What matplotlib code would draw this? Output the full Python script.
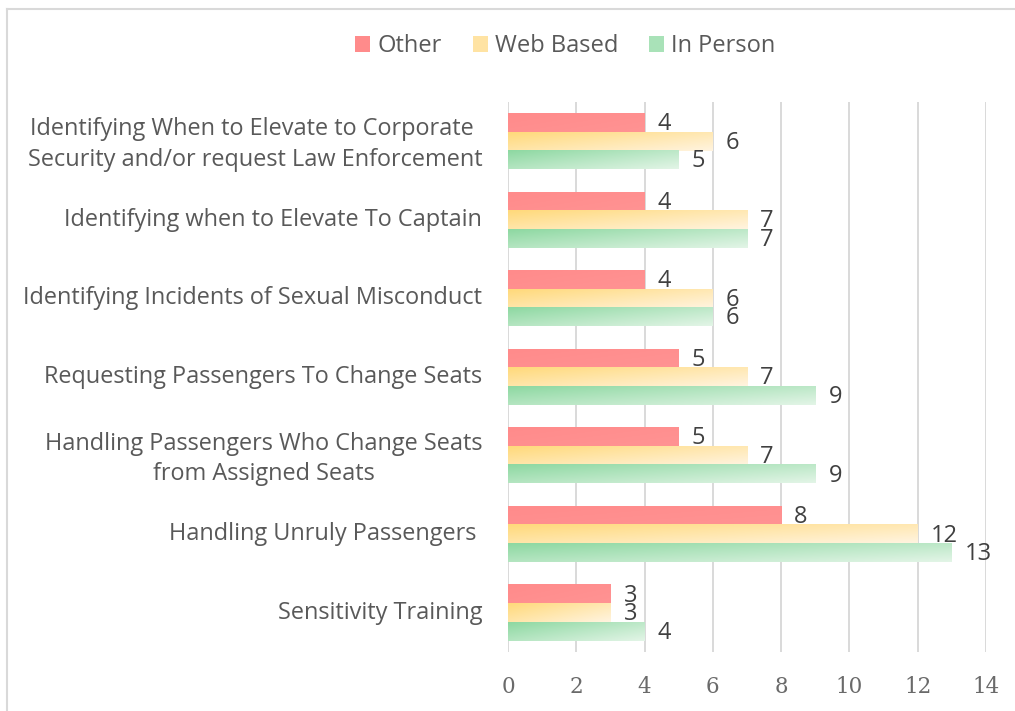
import numpy as np
import matplotlib
matplotlib.use("Agg")
import matplotlib.pyplot as plt
import matplotlib.transforms as mtransforms
from matplotlib.patches import Patch
from matplotlib.lines import Line2D
from matplotlib.colors import to_rgb

categories = [
    "Identifying When to Elevate to Corporate \nSecurity and/or request Law Enforcement",
    "Identifying when to Elevate To Captain",
    "Identifying Incidents of Sexual Misconduct",
    "Requesting Passengers To Change Seats",
    "Handling Passengers Who Change Seats\nfrom Assigned Seats",
    "Handling Unruly Passengers ",
    "Sensitivity Training",
]
series_names = ["Other", "Web Based", "In Person"]
other = [4, 4, 4, 5, 5, 8, 3]
web_based = [6, 7, 6, 7, 7, 12, 3]
in_person = [5, 7, 6, 9, 9, 13, 4]
x_ticks = [0, 2, 4, 6, 8, 10, 12, 14]

# gradient colours (start, end)
grads = [
    ("#FF8B8B", "#FF9393"),
    ("#FFD97A", "#FFF4E0"),
    ("#8DD8A1", "#E3F5E7"),
]
legend_cols = ["#FF8B8B", "#FFE3A3", "#A9E2B8"]

fig = plt.figure(figsize=(10.15, 7.11), dpi=100)
ax = fig.add_axes([508 / 1015, 1 - 652 / 711, (986 - 508) / 1015, 550 / 711])

h = 0.236
n = len(categories)
ys = np.arange(n)
all_series = [other, web_based, in_person]
offsets = [-h, 0, h]


def gradient_bar(ax, left, width, yc, height, c0, c1):
    c0 = np.array(to_rgb(c0))
    c1 = np.array(to_rgb(c1))
    nx, ny = 200, 40
    xf = np.linspace(0, 1, nx)[None, :]
    yf = np.linspace(0, 1, ny)[:, None]
    t = 0.55 * xf + 0.45 * yf
    img = c0[None, None, :] + (c1 - c0)[None, None, :] * t[:, :, None]
    ax.imshow(img, extent=(left, left + width, yc + height / 2, yc - height / 2),
              origin="upper", aspect="auto", interpolation="bilinear", zorder=2)


for si, vals in enumerate(all_series):
    for i, v in enumerate(vals):
        yc = ys[i] + offsets[si]
        gradient_bar(ax, 0, v, yc, h, *grads[si])
        ax.annotate(str(v), xy=(v, yc), xytext=(9.5, -1), textcoords="offset points",
                    ha="left", va="center", fontsize=17, color="#404040",
                    family="Open Sans", zorder=3)

ax.set_xlim(0, 14)
ax.set_ylim(n - 0.5, -0.5)
ax.set_xticks(x_ticks)
ax.set_xticklabels([str(t) for t in x_ticks], family="DejaVu Serif", fontsize=15.5,
                   color="#6a6a6a")
ax.set_yticks(ys)
ax.set_yticklabels(categories, family="Open Sans", fontsize=16.9, color="#595959",
                   ha="right", multialignment="center", linespacing=1.35)
ax.tick_params(axis="both", length=0)
ax.tick_params(axis="x", pad=17)
ax.tick_params(axis="y", pad=18.5)

shift = mtransforms.ScaledTranslation(0, 3 / 100, fig.dpi_scale_trans)
for lbl in ax.get_yticklabels():
    lbl.set_transform(lbl.get_transform() + shift)

ax.grid(axis="x", color="#D9D9D9", linewidth=1.4, zorder=0)
ax.set_axisbelow(True)
for s in ax.spines.values():
    s.set_visible(False)

handles = [Patch(facecolor=c, edgecolor="none") for c in legend_cols]
fig.legend(handles, series_names, loc="center", bbox_to_anchor=(0.557, 1 - 46 / 711),
           ncol=3, frameon=False, prop={"family": "Open Sans", "size": 17},
           labelcolor="#595959", handlelength=0.65, handleheight=0.65,
           handletextpad=0.3, columnspacing=1.3)

# chart border (left and top only visible)
fig.add_artist(Line2D([6.5 / 1015, 6.5 / 1015], [0, 1 - 8.5 / 711],
                      transform=fig.transFigure, color="#D9D9D9", lw=1.5))
fig.add_artist(Line2D([6.5 / 1015, 1], [1 - 8.5 / 711, 1 - 8.5 / 711],
                      transform=fig.transFigure, color="#D9D9D9", lw=1.5))

fig.savefig("out.png", dpi=100)
